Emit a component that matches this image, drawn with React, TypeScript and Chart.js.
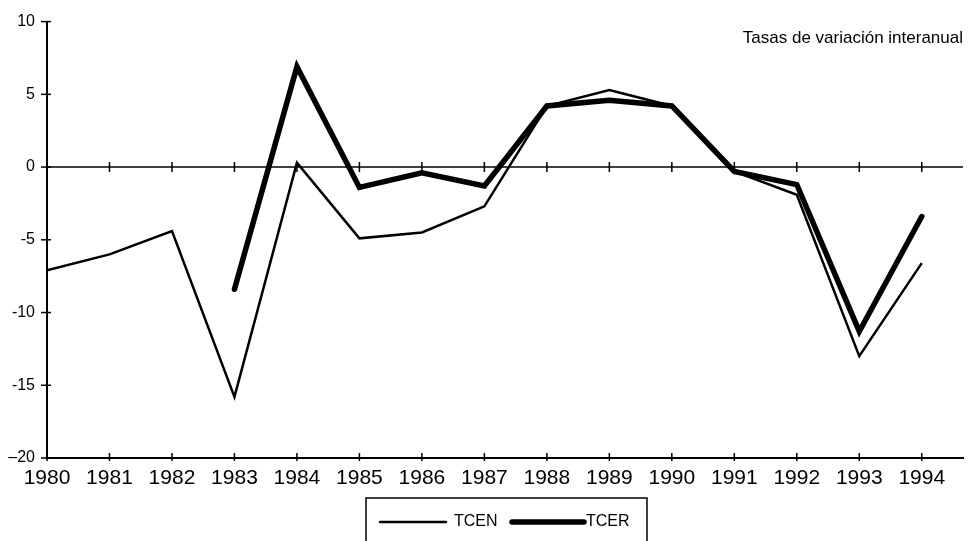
import React, { useEffect, useRef } from "react";
import { Chart, registerables } from "chart.js";

Chart.register(...registerables);

const years = [1980, 1981, 1982, 1983, 1984, 1985, 1986, 1987, 1988, 1989, 1990, 1991, 1992, 1993, 1994];
const tcen = [-7.1, -6.0, -4.4, -15.8, 0.3, -4.9, -4.5, -2.7, 4.2, 5.3, 4.2, -0.3, -1.9, -13.0, -6.6];
const tcer = [null, null, null, -8.4, 6.9, -1.4, -0.4, -1.3, 4.2, 4.6, 4.2, -0.3, -1.2, -11.3, -3.4];
const yTicks = [-20, -15, -10, -5, 0, 5, 10];
const titleText = "Tasas de variación interanual";
const FONT = "'Liberation Sans', Arial, Helvetica, sans-serif";

const decorPlugin = {
  id: "decor",
  afterDraw(chart: any) {
    const ctx = chart.ctx;
    const xs = chart.scales.x;
    const ys = chart.scales.y;
    const area = chart.chartArea;
    ctx.save();
    ctx.strokeStyle = "#000";
    // zero line
    const y0 = ys.getPixelForValue(0);
    ctx.lineWidth = 1.5;
    ctx.beginPath();
    ctx.moveTo(area.left, y0);
    ctx.lineTo(area.right, y0);
    ctx.stroke();
    // y tick crosses
    ctx.lineWidth = 1.5;
    ys.ticks.forEach((t: any) => {
      const py = ys.getPixelForValue(t.value);
      ctx.beginPath();
      ctx.moveTo(area.left - 6, py);
      ctx.lineTo(area.left + 4, py);
      ctx.stroke();
    });
    // x tick crosses on bottom axis and zero line
    xs.ticks.forEach((t: any) => {
      const px = xs.getPixelForValue(t.value);
      ctx.beginPath();
      ctx.moveTo(px, area.bottom - 5);
      ctx.lineTo(px, area.bottom + 3);
      ctx.moveTo(px, y0 - 5);
      ctx.lineTo(px, y0 + 5);
      ctx.stroke();
    });
    // title
    ctx.fillStyle = "#000";
    ctx.font = `17px ${FONT}`;
    ctx.textAlign = "right";
    ctx.textBaseline = "middle";
    ctx.fillText(titleText, area.right, 38);
    // legend box
    ctx.lineWidth = 1.5;
    ctx.strokeRect(366, 498, 281, 60);
    ctx.font = `16px ${FONT}`;
    ctx.textAlign = "left";
    const items = [
      { x0: 380, x1: 446, tx: 454 },
      { x0: 512, x1: 584, tx: 586 },
    ];
    chart.data.datasets.forEach((ds: any, i: number) => {
      const it = items[i];
      ctx.lineWidth = ds.borderWidth;
      ctx.lineCap = "round";
      ctx.beginPath();
      ctx.moveTo(it.x0, 522);
      ctx.lineTo(it.x1, 522);
      ctx.stroke();
      ctx.fillText(ds.label, it.tx, 522);
    });
    ctx.restore();
  },
};

export default function App() {
  const ref = useRef<HTMLCanvasElement>(null);
  useEffect(() => {
    if (!ref.current) return;
    const chart = new Chart(ref.current, {
      type: "line",
      data: {
        datasets: [
          {
            label: "TCEN",
            data: years.map((x, i) => ({ x, y: tcen[i] })),
            borderColor: "#000",
            borderWidth: 2.5,
            pointRadius: 0,
            tension: 0,
            borderJoinStyle: "miter",
          },
          {
            label: "TCER",
            data: years.map((x, i) => ({ x, y: tcer[i] })),
            borderColor: "#000",
            borderWidth: 5.5,
            pointRadius: 0,
            tension: 0,
            borderCapStyle: "round",
            borderJoinStyle: "miter",
          },
        ],
      },
      options: {
        animation: false,
        responsive: false,
        maintainAspectRatio: false,
        layout: { padding: { top: 18, right: 10, left: 0, bottom: 0 } },
        plugins: { legend: { display: false }, tooltip: { enabled: false } },
        scales: {
          x: {
            type: "linear",
            min: years[0],
            max: 1994.66,
            grid: { display: false, drawTicks: false },
            border: { display: true, color: "#000", width: 2 },
            afterBuildTicks: (s: any) => {
              s.ticks = years.map((v) => ({ value: v }));
            },
            afterFit: (s: any) => {
              s.height = 83;
            },
            ticks: {
              color: "#000",
              padding: 8,
              autoSkip: false,
              maxRotation: 0,
              font: { family: FONT, size: 21 },
              callback: (v: any) => String(v),
            },
          },
          y: {
            min: -20,
            max: 10,
            grid: { display: false, drawTicks: false },
            border: { display: true, color: "#000", width: 2 },
            afterBuildTicks: (s: any) => {
              s.ticks = yTicks.map((v) => ({ value: v }));
            },
            afterFit: (s: any) => {
              s.width = 47;
            },
            ticks: {
              color: "#000",
              padding: 12,
              font: { family: FONT, size: 16 },
              callback: (v: any) => (v === -20 ? "\u201320" : String(v)),
            },
          },
        },
      },
      plugins: [decorPlugin],
    });
    return () => chart.destroy();
  }, []);
  return (
    <div style={{ position: "fixed", left: 0, top: 0, width: 973, height: 541, background: "#fff" }}>
      <canvas ref={ref} width={973} height={541} style={{ width: 973, height: 541 }} />
    </div>
  );
}
